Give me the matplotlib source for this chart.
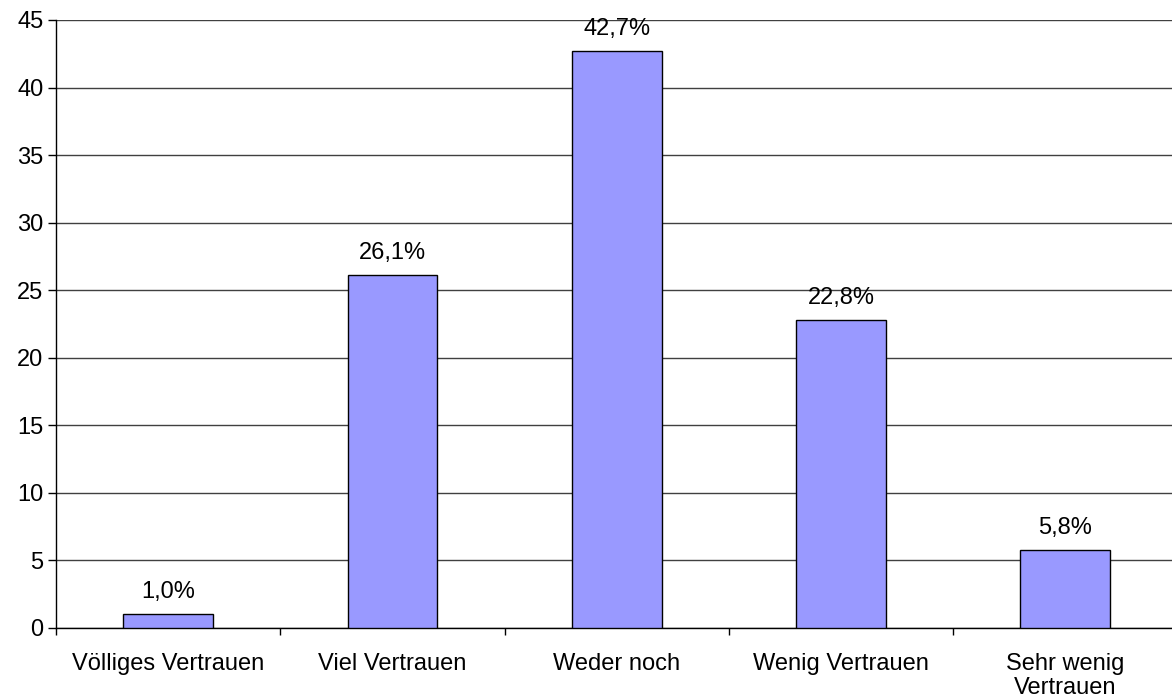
import numpy as np
import matplotlib.pyplot as plt

plt.rcParams['font.family'] = ['Liberation Sans', 'DejaVu Sans']

categories = ['Völliges Vertrauen', 'Viel Vertrauen', 'Weder noch',
              'Wenig Vertrauen', 'Sehr wenig\nVertrauen']
values = [1.0, 26.1, 42.7, 22.8, 5.8]
labels = ['1,0%', '26,1%', '42,7%', '22,8%', '5,8%']

fig = plt.figure(figsize=(11.72, 7.0), dpi=100)
# plot area runs slightly past the right edge of the image
ax = fig.add_axes([56 / 1172, 1 - 628 / 700, 1121.5 / 1172, 608 / 700])

x = np.arange(len(categories))
ax.bar(x, values, width=0.40, color='#9999FF', edgecolor='black',
       linewidth=1.0, zorder=3)

for xi, v, lab in zip(x, values, labels):
    ax.annotate(lab, (xi, v), xytext=(0, 8), textcoords='offset points',
                ha='center', va='bottom', fontsize=17)

ax.set_xlim(-0.5, len(categories) - 0.5)
ax.set_ylim(0, 45)
ax.set_yticks(np.arange(0, 46, 5))
ax.yaxis.grid(True, color='#404040', linewidth=1.0, zorder=0)
ax.set_axisbelow(True)

# category labels centred, tick marks at the boundaries
ax.set_xticks(x)
ax.set_xticklabels(categories, fontsize=17, linespacing=1.13)
ax.tick_params(axis='x', which='major', length=0, pad=18)
ax.set_xticks(np.arange(-0.5, len(categories), 1.0), minor=True)
ax.tick_params(axis='x', which='minor', length=5, width=1, color='black')
ax.tick_params(axis='y', length=6, width=1, labelsize=17, pad=3)

for s in ['top', 'right']:
    ax.spines[s].set_visible(False)
ax.spines['left'].set_linewidth(1.0)
ax.spines['bottom'].set_linewidth(1.0)

fig.savefig('out.png', dpi=100)
